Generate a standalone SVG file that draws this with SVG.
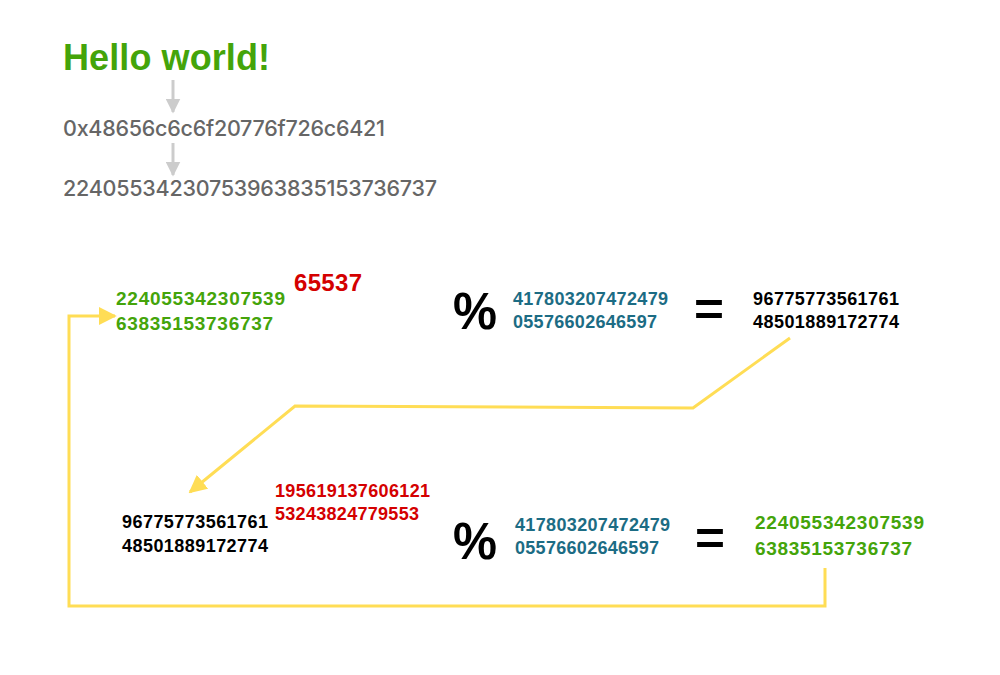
<svg xmlns="http://www.w3.org/2000/svg" width="1000" height="675" viewBox="0 0 1000 675">
<defs>
<style>
text{font-family:"Liberation Sans",Arial,sans-serif;font-weight:bold}
.g{fill:#44a40a}
.gr{fill:#666666;font-family:Inter,"Liberation Sans",sans-serif;font-weight:500}
.t{fill:#1c6c84}
.k{fill:#000}
.r{fill:#d40000}
.y{fill:none;stroke:#ffdd55;stroke-width:3}
</style>
<marker id="ag" viewBox="0 0 10 10" refX="9" refY="5" markerWidth="5" markerHeight="5" orient="auto" markerUnits="strokeWidth"><path d="M0,0L10,5L0,10z" fill="#cccccc"/></marker>
<marker id="ay" viewBox="0 0 10 10" refX="9" refY="5" markerWidth="6" markerHeight="6" orient="auto" markerUnits="strokeWidth"><path d="M0,0L10,5L0,10z" fill="#ffdd55"/></marker>
</defs>
<rect width="1000" height="675" fill="#fff"/>
<g id="connectors">
<line x1="173" y1="80" x2="173" y2="112" stroke="#cccccc" stroke-width="3" marker-end="url(#ag)"/>
<line x1="173" y1="143" x2="173" y2="175" stroke="#cccccc" stroke-width="3" marker-end="url(#ag)"/>
<path class="y" d="M790,338 L693,408 L295,406 L190,492" marker-end="url(#ay)"/>
<path class="y" d="M825,568 L825,606 L69,606 L69,316 L115,316" marker-end="url(#ay)"/>
</g>
<g id="hello"><text x="63" y="70" font-size="36" class="g" textLength="207">Hello world!</text></g>
<g id="hex"><text x="63" y="136" font-size="21.5" class="gr" textLength="322">0x48656c6c6f20776f726c6421</text></g>
<g id="dec"><text x="63" y="196" font-size="21.5" class="gr" textLength="374">22405534230753963835153736737</text></g>
<g id="m1">
<text x="116" y="305" font-size="19" class="g" textLength="169">224055342307539</text>
<text x="116" y="330" font-size="19" class="g" textLength="157">63835153736737</text>
</g>
<g id="e"><text x="294" y="291" font-size="24" class="r" textLength="68">65537</text></g>
<g id="mod1"><text x="453" y="329" font-size="52" class="k" textLength="44" lengthAdjust="spacingAndGlyphs">%</text></g>
<g id="n1">
<text x="513" y="305" font-size="18" class="t" textLength="155">417803207472479</text>
<text x="513" y="328" font-size="18" class="t" textLength="144">05576602646597</text>
</g>
<g id="eq1"><text x="694" y="325" font-size="46" class="k" textLength="30" lengthAdjust="spacingAndGlyphs">=</text></g>
<g id="c1">
<text x="753" y="305" font-size="18" class="k" textLength="146">96775773561761</text>
<text x="753" y="328" font-size="18" class="k" textLength="146">48501889172774</text>
</g>
<g id="c2">
<text x="122" y="528" font-size="18" class="k" textLength="146">96775773561761</text>
<text x="122" y="552" font-size="18" class="k" textLength="146">48501889172774</text>
</g>
<g id="d">
<text x="275" y="497" font-size="18" class="r" textLength="155">195619137606121</text>
<text x="275" y="520" font-size="18" class="r" textLength="144">53243824779553</text>
</g>
<g id="mod2"><text x="453" y="559" font-size="52" class="k" textLength="44" lengthAdjust="spacingAndGlyphs">%</text></g>
<g id="n2">
<text x="515" y="531" font-size="18" class="t" textLength="155">417803207472479</text>
<text x="515" y="554" font-size="18" class="t" textLength="144">05576602646597</text>
</g>
<g id="eq2"><text x="695" y="554" font-size="46" class="k" textLength="30" lengthAdjust="spacingAndGlyphs">=</text></g>
<g id="m2">
<text x="755" y="529" font-size="19" class="g" textLength="169">224055342307539</text>
<text x="755" y="555" font-size="19" class="g" textLength="157">63835153736737</text>
</g>
</svg>
